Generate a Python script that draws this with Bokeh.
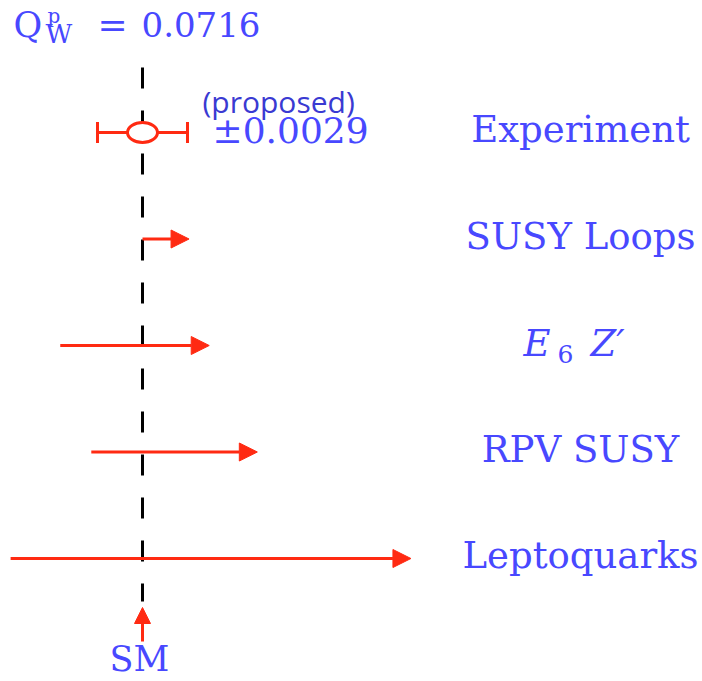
import numpy as np
from bokeh.plotting import figure
from bokeh.models import ColumnDataSource, Arrow, NormalHead, Range1d
from bokeh.core.properties import value
from bokeh.embed import file_html
from bokeh.resources import INLINE

# ---------------- data ----------------
sm_value = 0.0716
exp_value = 0.0716
exp_error = 0.0029
row_labels = ["Experiment", "SUSY Loops", "E6 Z'", "RPV SUSY", "Leptoquarks"]
rows = [5, 4, 3, 2, 1]
models = ["SUSY Loops", "E6 Z'", "RPV SUSY", "Leptoquarks"]
model_rows = [4, 3, 2, 1]
model_low = [0.0716, 0.0663, 0.0683, 0.0631]
model_high = [0.0746, 0.0759, 0.0790, 0.0889]

# ---------------- layout ----------------
W, H = 702, 681
PXU = 15517.0          # pixels per unit of Q_W
ROWPX = 106.5          # pixels per row
x_start = sm_value + (0 - 142) / PXU
x_end = x_start + W / PXU
y_top = 5 + (132 - 0) / ROWPX
y_bottom = y_top - H / ROWPX


def X(px):
    return x_start + px / PXU


def Y(py):
    return y_top - py / ROWPX


def base(desired, size):
    # y_offset so that the alphabetic baseline lands `desired` px below anchor
    return desired - round(0.37 * size)


RED = "#ff2a12"
BLUE = "#4848ff"
SERIF = value("DejaVu Serif")
LS = 37  # label font size

p = figure(width=W, height=H, x_range=Range1d(x_start, x_end),
           y_range=Range1d(y_bottom, y_top), output_backend="svg",
           toolbar_location=None, min_border=0,
           x_axis_location=None, y_axis_location=None)
p.grid.visible = False
p.outline_line_color = None

# SM dashed reference line
p.line(x=[sm_value, sm_value], y=[Y(67), Y(601)], line_color="black",
       line_width=3, line_dash="21 22")

# model arrows
src = ColumnDataSource(dict(x0=model_low, x1=model_high, y=model_rows))
p.add_layout(Arrow(end=NormalHead(size=18, fill_color=RED, line_color=RED, line_width=1),
                   x_start="x0", y_start="y", x_end="x1", y_end="y",
                   line_color=RED, line_width=3, source=src))

# SM arrow
p.add_layout(Arrow(end=NormalHead(size=16, fill_color=RED, line_color=RED, line_width=1),
                   x_start=sm_value, y_start=Y(641), x_end=sm_value, y_end=Y(607),
                   line_color=RED, line_width=3))

# experiment error bar
p.segment(x0=[exp_value - exp_error], x1=[exp_value + exp_error],
          y0=[rows[0]], y1=[rows[0]], line_color=RED, line_width=3)
p.scatter(x=[exp_value - exp_error, exp_value + exp_error], y=[rows[0], rows[0]],
          marker="dash", angle=np.pi / 2, size=21, line_color=RED, line_width=3)
p.ellipse(x=[exp_value], y=[rows[0]], width=30, height=20,
          width_units="screen", height_units="screen",
          fill_color="white", line_color=RED, line_width=3)

# row labels (E6 Z' composed separately)
lab_rows = [r for r, l in zip(rows, row_labels) if l != "E6 Z'"]
lab_text = [l for l in row_labels if l != "E6 Z'"]
p.text(x=[X(580)] * len(lab_text), y=lab_rows, text=lab_text, text_align="center",
       text_baseline="alphabetic", y_offset=base(11, LS), text_font=SERIF,
       text_font_size="%dpx" % LS, text_color=BLUE)

e6_row = rows[row_labels.index("E6 Z'")]
p.text(x=[X(523)], y=[e6_row], text=["E"], text_align="left", text_baseline="alphabetic",
       y_offset=base(12, LS), text_font=SERIF, text_font_style="italic",
       text_font_size="%dpx" % LS, text_color=BLUE)
p.text(x=[X(557)], y=[e6_row], text=["6"], text_align="left", text_baseline="alphabetic",
       y_offset=base(17, 25), text_font=SERIF, text_font_size="25px", text_color=BLUE)
p.text(x=[X(590)], y=[e6_row], text=["Z\u2032"], text_align="left", text_baseline="alphabetic",
       y_offset=base(12, LS), text_font=SERIF, text_font_style="italic",
       text_font_size="%dpx" % LS, text_color=BLUE)

# experiment annotations
p.text(x=[X(202)], y=[rows[0]], text=["(proposed)"], text_align="left",
       text_baseline="alphabetic", y_offset=base(-20, 30), text_font=value("Open Sans"),
       text_font_size="30px", text_color="#3a3ad2")
p.text(x=[X(212)], y=[rows[0]], text=["\u00b1%.4f" % exp_error], text_align="left",
       text_baseline="alphabetic", y_offset=base(11, 36), text_font=SERIF,
       text_font_size="36px", text_color=BLUE)

# title  Q_W^p = 0.0716
ty = Y(37)
p.text(x=[X(13)], y=[ty], text=["Q"], text_align="left", text_baseline="alphabetic",
       y_offset=base(0, 35), text_font=SERIF, text_font_size="35px", text_color=BLUE)
p.text(x=[X(47)], y=[ty], text=["p"], text_align="left", text_baseline="alphabetic",
       y_offset=base(-15, 20), text_font=SERIF, text_font_size="20px", text_color=BLUE)
p.text(x=[X(45)], y=[ty], text=["W"], text_align="left", text_baseline="alphabetic",
       y_offset=base(6, 26), text_font=SERIF, text_font_size="26px", text_color=BLUE)
p.text(x=[X(112)], y=[ty], text=["="], text_align="center", text_baseline="alphabetic",
       y_offset=base(0, 36), text_font=SERIF, text_font_size="36px", text_color=BLUE)
p.text(x=[X(141)], y=[ty], text=["%.4f" % sm_value], text_align="left",
       text_baseline="alphabetic", y_offset=base(0, 34), text_font=SERIF,
       text_font_size="34px", text_color=BLUE)

# SM label
p.text(x=[X(139)], y=[Y(671)], text=["SM"], text_align="center",
       text_baseline="alphabetic", y_offset=base(0, 35), text_font=SERIF,
       text_font_size="35px", text_color=BLUE)

open("out.html", "w").write(file_html(p, INLINE))
